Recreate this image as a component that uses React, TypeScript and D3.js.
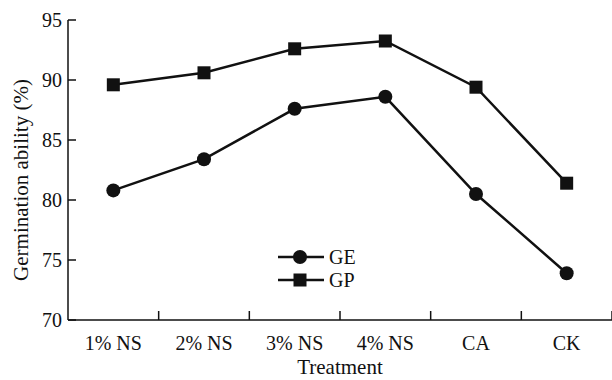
import React from "react";
import * as d3 from "d3";

const treatments = ["1% NS", "2% NS", "3% NS", "4% NS", "CA", "CK"];
const geValues = [80.8, 83.4, 87.6, 88.6, 80.5, 73.9];
const gpValues = [89.6, 90.6, 92.6, 93.25, 89.4, 81.4];
const yTicks = [70, 75, 80, 85, 90, 95];

const W = 612;
const H = 380;
const left = 68;
const right = 612;
const top = 20;
const bottom = 320;
const font = "'Liberation Serif', 'Times New Roman', serif";
const ink = "#111";

export default function App() {
  const x = d3.scaleBand<string>().domain(treatments).range([left, right]);
  const y = d3.scaleLinear().domain([70, 95]).range([bottom, top]);
  const cx = (t: string) => (x(t) as number) + x.bandwidth() / 2;

  const line = d3
    .line<number>()
    .x((d, i) => cx(treatments[i]))
    .y((d) => y(d));

  // tick marks sit between categories
  const bounds = treatments.map((t) => x(t) as number).slice(1);
  bounds.push(right);

  return (
    <svg width={W} height={H} style={{ display: "block" }}>
      <style>{`body{margin:0}`}</style>
      <rect width={W} height={H} fill="white" />
      <line x1={left} y1={top} x2={left} y2={bottom} stroke={ink} strokeWidth={1.5} />
      <line x1={left} y1={bottom} x2={right} y2={bottom} stroke={ink} strokeWidth={1.5} />
      {yTicks.map((t) => (
        <g key={t}>
          <line x1={left} x2={left + 8} y1={y(t)} y2={y(t)} stroke={ink} strokeWidth={1.5} />
          <text x={left - 6} y={y(t)} dy="0.34em" textAnchor="end"
            fontFamily={font} fontSize={20} fill={ink}>{t}</text>
        </g>
      ))}
      {bounds.map((b, i) => (
        <line key={i} x1={b} x2={b} y1={bottom} y2={bottom - 9} stroke={ink} strokeWidth={1.5} />
      ))}
      {treatments.map((t) => (
        <text key={t} x={cx(t)} y={350} textAnchor="middle"
          fontFamily={font} fontSize={20} fill={ink}>{t}</text>
      ))}
      <text x={340} y={374} textAnchor="middle" fontFamily={font} fontSize={21} fill={ink}>
        Treatment
      </text>
      <text transform={`translate(28,${(top + bottom) / 2 + 10}) rotate(-90)`} textAnchor="middle"
        fontFamily={font} fontSize={21} fill={ink}>Germination ability (%)</text>

      <path d={line(gpValues) || ""} fill="none" stroke={ink} strokeWidth={2.5} />
      <path d={line(geValues) || ""} fill="none" stroke={ink} strokeWidth={2.5} />
      {gpValues.map((v, i) => (
        <rect key={i} x={cx(treatments[i]) - 6.5} y={y(v) - 6.5} width={13} height={13} fill={ink} />
      ))}
      {geValues.map((v, i) => (
        <circle key={i} cx={cx(treatments[i])} cy={y(v)} r={7} fill={ink} />
      ))}

      {/* legend */}
      <g>
        <line x1={278} x2={324} y1={257} y2={257} stroke={ink} strokeWidth={2.5} />
        <circle cx={300} cy={257} r={7} fill={ink} />
        <text x={329} y={257} dy="0.34em" fontFamily={font} fontSize={20} fill={ink}>GE</text>
        <line x1={278} x2={324} y1={280} y2={280} stroke={ink} strokeWidth={2.5} />
        <rect x={293.5} y={273.5} width={13} height={13} fill={ink} />
        <text x={329} y={280} dy="0.34em" fontFamily={font} fontSize={20} fill={ink}>GP</text>
      </g>
    </svg>
  );
}
